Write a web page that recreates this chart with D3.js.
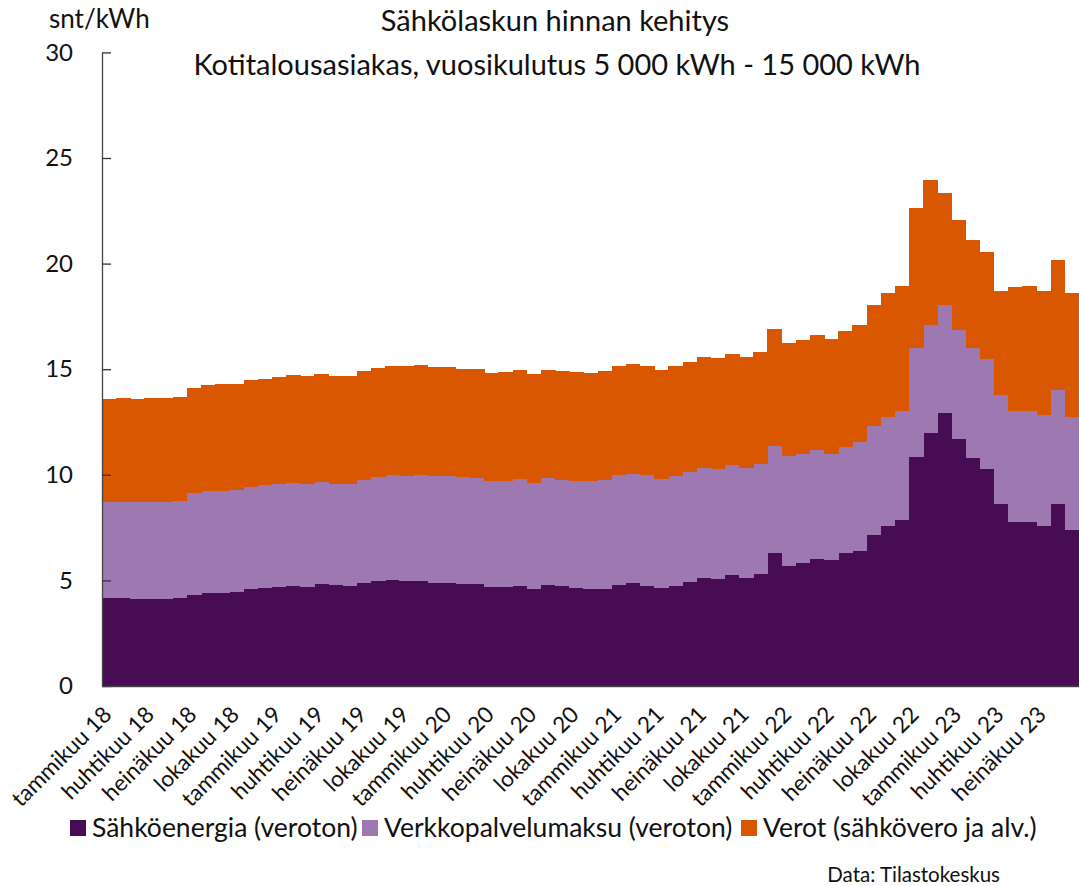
<!DOCTYPE html>
<html>
<head>
<meta charset="utf-8">
<script src="https://cdn.jsdelivr.net/npm/d3@7"></script>
<style>
  body { margin: 0; background: #fff; }
  text { font-family: Lato, "Open Sans", sans-serif; fill: #111; }
</style>
</head>
<body>
<div class="chart"></div>
<script>
var svgWidth = 1079;
var svgHeight = 886;

// kuukaudet ja vuodet (tammikuu 2018 - syyskuu 2023)
var monthNames = ["tammikuu", "helmikuu", "maaliskuu", "huhtikuu", "toukokuu", "kesäkuu",
    "heinäkuu", "elokuu", "syyskuu", "lokakuu", "marraskuu", "joulukuu"];
var years = ["18", "19", "20", "21", "22", "23"];
var monthCount = 69;

// snt/kWh
var energy = [4.15, 4.17, 4.13, 4.12, 4.12, 4.15, 4.31, 4.40, 4.40, 4.47, 4.59, 4.65,
    4.70, 4.75, 4.70, 4.85, 4.77, 4.75, 4.86, 4.99, 5.02, 4.97, 4.97, 4.89,
    4.89, 4.85, 4.81, 4.67, 4.70, 4.75, 4.61, 4.78, 4.75, 4.65, 4.58, 4.61,
    4.78, 4.86, 4.75, 4.62, 4.75, 4.91, 5.13, 5.08, 5.24, 5.13, 5.29, 6.28,
    5.70, 5.81, 6.01, 5.97, 6.31, 6.41, 7.15, 7.59, 7.88, 10.86, 11.96, 12.93,
    11.68, 10.81, 10.27, 8.63, 7.78, 7.78, 7.56, 8.63, 7.39];
var network = [4.55, 4.56, 4.57, 4.61, 4.61, 4.62, 4.81, 4.82, 4.85, 4.81, 4.85, 4.85,
    4.88, 4.85, 4.88, 4.79, 4.81, 4.81, 4.89, 4.89, 4.95, 4.97, 5.00, 5.04,
    5.04, 5.03, 5.04, 5.02, 5.02, 5.04, 5.02, 5.05, 5.00, 5.06, 5.11, 5.14,
    5.19, 5.18, 5.22, 5.18, 5.19, 5.21, 5.18, 5.19, 5.21, 5.18, 5.21, 5.10,
    5.19, 5.16, 5.15, 5.00, 5.01, 5.13, 5.15, 5.13, 5.14, 5.13, 5.12, 5.10,
    5.18, 5.18, 5.20, 5.15, 5.23, 5.24, 5.26, 5.37, 5.36];
var taxes = [4.87, 4.89, 4.89, 4.92, 4.92, 4.90, 5.01, 5.02, 5.03, 5.03, 5.06, 5.05,
    5.07, 5.11, 5.08, 5.15, 5.11, 5.12, 5.15, 5.16, 5.20, 5.20, 5.21, 5.17,
    5.17, 5.15, 5.18, 5.15, 5.16, 5.16, 5.14, 5.13, 5.15, 5.14, 5.12, 5.15,
    5.18, 5.21, 5.18, 5.16, 5.20, 5.21, 5.28, 5.28, 5.29, 5.28, 5.31, 5.52,
    5.37, 5.43, 5.47, 5.44, 5.50, 5.55, 5.74, 5.87, 5.90, 6.64, 6.86, 5.30,
    5.20, 5.14, 5.06, 4.91, 5.90, 5.92, 5.87, 6.16, 5.86];

var seriesKeys = ["energy", "network", "taxes"];
var seriesLabels = ["Sähköenergia (veroton)", "Verkkopalvelumaksu (veroton)", "Verot (sähkövero ja alv.)"];
var seriesColors = ["#470c53", "#9e78b1", "#d95700"];
var yTicks = [0, 5, 10, 15, 20, 25, 30];

var months = d3.range(monthCount).map(i => monthNames[i % 12] + " " + years[Math.floor(i / 12)]);
var tickLabels = months.filter((d, i) => i % 3 == 0);

var rows = months.map((m, i) => ({month: m, energy: energy[i], network: network[i], taxes: taxes[i]}));
var stacked = d3.stack().keys(seriesKeys)(rows);

var plot = {left: 102, right: 1079, top: 52.4, bottom: 686};

var $svg = d3.select(".chart")
    .append("svg")
    .attr("width", svgWidth)
    .attr("height", svgHeight);

var xScale = d3.scaleBand()
    .domain(months)
    .range([plot.left, plot.right])
    .padding(0);

var yScale = d3.scaleLinear()
    .domain([0, 30])
    .range([plot.bottom, plot.top]);

// pylväät
$svg.append("g")
    .selectAll("g")
    .data(stacked)
    .enter()
    .append("g")
    .attr("fill", (d, i) => seriesColors[i])
    .selectAll("rect")
    .data(d => d)
    .enter()
    .append("rect")
    .attr("x", d => xScale(d.data.month))
    .attr("y", d => yScale(d[1]))
    .attr("width", xScale.bandwidth() + 0.4)
    .attr("height", d => yScale(d[0]) - yScale(d[1]))
    .attr("shape-rendering", "crispEdges");

// y-akseli
var yAxis = d3.axisLeft(yScale)
    .tickValues(yTicks)
    .tickSizeInner(-9)
    .tickSizeOuter(0)
    .tickPadding(29);

var $yAxis = $svg.append("g")
    .attr("transform", `translate(${plot.left},0)`)
    .call(yAxis);
$yAxis.select(".domain").attr("stroke", "#444").attr("stroke-width", 1.3);
$yAxis.selectAll(".tick line").attr("stroke", "#333").attr("stroke-width", 1.3);
$yAxis.selectAll(".tick text")
    .style("font-size", "24px")
    .attr("fill", "#111");

// x-akseli
var xAxis = d3.axisBottom(xScale)
    .tickValues(tickLabels)
    .tickSize(0)
    .tickPadding(0);

var $xAxis = $svg.append("g")
    .attr("transform", `translate(0,${plot.bottom})`)
    .call(xAxis);
$xAxis.select(".domain").attr("stroke", "#444").attr("stroke-width", 1.3);
$xAxis.selectAll(".tick text")
    .style("font-size", "22.5px")
    .attr("fill", "#111")
    .attr("text-anchor", "end")
    .attr("dy", "0")
    .attr("y", 0)
    .attr("transform", "translate(4,30) rotate(-45)");

// otsikko
$svg.append("text")
    .attr("x", 555)
    .attr("y", 31)
    .attr("text-anchor", "middle")
    .style("font-size", "29px")
    .text("Sähkölaskun hinnan kehitys");

$svg.append("text")
    .attr("x", 557)
    .attr("y", 75)
    .attr("text-anchor", "middle")
    .style("font-size", "29px")
    .text("Kotitalousasiakas, vuosikulutus 5 000 kWh - 15 000 kWh");

$svg.append("text")
    .attr("x", 49)
    .attr("y", 28)
    .style("font-size", "26px")
    .text("snt/kWh");

// selite
var legendX = [70, 362, 741];
var $legend = $svg.append("g")
    .selectAll("g")
    .data(seriesLabels)
    .enter()
    .append("g")
    .attr("transform", (d, i) => `translate(${legendX[i]},820)`);

$legend.append("rect")
    .attr("width", 16)
    .attr("height", 16)
    .attr("fill", (d, i) => seriesColors[i]);

$legend.append("text")
    .attr("x", 22)
    .attr("y", 17)
    .style("font-size", "26.5px")
    .text(d => d);

$svg.append("text")
    .attr("x", 1000)
    .attr("y", 882)
    .attr("text-anchor", "end")
    .style("font-size", "20.5px")
    .text("Data: Tilastokeskus");
</script>
</body>
</html>
